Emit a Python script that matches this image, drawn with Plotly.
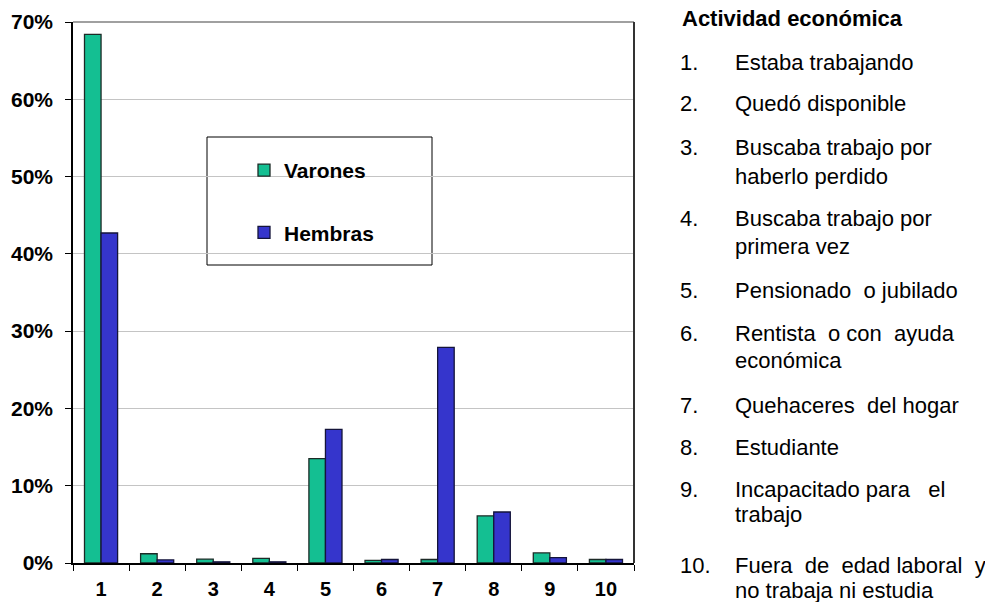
import plotly.graph_objects as go

# datos (porcentaje sobre el total de cada sexo)
categorias = ["1", "2", "3", "4", "5", "6", "7", "8", "9", "10"]
varones = [0.684, 0.012, 0.005, 0.006, 0.135, 0.0035, 0.0045, 0.061, 0.013, 0.0045]
hembras = [0.427, 0.004, 0.0015, 0.0015, 0.173, 0.0045, 0.279, 0.066, 0.007, 0.0045]

titulo_lista = "Actividad económica"
actividades = [
    ["Estaba trabajando"],
    ["Quedó disponible"],
    ["Buscaba trabajo por", "haberlo perdido"],
    ["Buscaba trabajo por", "primera vez"],
    ["Pensionado  o jubilado"],
    ["Rentista  o con  ayuda", "económica"],
    ["Quehaceres  del hogar"],
    ["Estudiante"],
    ["Incapacitado para   el", "trabajo"],
    ["Fuera  de  edad laboral  y", "no trabaja ni estudia"],
]

W, H = 985, 602
L, R, T, B = 73, 634, 22, 563   # plot area in pixels


def px(x):
    return (x - L) / (R - L)


def py(y):
    return (B - y) / (B - T)


FONT = "Liberation Sans, Arial, sans-serif"
VERDE = "#14bf92"
AZUL = "#3535cc"

fig = go.Figure()
fig.add_trace(go.Bar(x=categorias, y=varones, name="<b>Varones</b>", legendgroup="v",
                     marker=dict(color=VERDE, line=dict(color="#1c2a26", width=1.3))))
fig.add_trace(go.Bar(x=categorias, y=hembras, name="<b>Hembras</b>", legendgroup="h",
                     marker=dict(color=AZUL, line=dict(color="#14143a", width=1.3))))

# marco del área de gráfico
fig.add_shape(type="line", xref="paper", yref="paper", x0=0, x1=1, y0=1, y1=1,
              line=dict(color="#a0a0a0", width=2))
fig.add_shape(type="line", xref="paper", yref="paper", x0=1, x1=1, y0=0, y1=1,
              line=dict(color="#333333", width=2))
# caja de la leyenda
fig.add_shape(type="rect", xref="paper", yref="paper",
              x0=px(207), x1=px(432), y0=py(265), y1=py(137),
              line=dict(color="black", width=1), fillcolor="white", layer="below")

# lista de actividades a la derecha
fig.add_annotation(x=px(680), y=py(19), xref="paper", yref="paper", xanchor="left",
                   yanchor="middle", showarrow=False, text="<b>" + titulo_lista + "</b>",
                   font=dict(family=FONT, size=22, color="black"))
filas_y = [[62], [103], [147, 177], [218, 246], [290], [333, 361], [405], [447],
           [489, 514], [565, 590]]
for i, (lineas, ys) in enumerate(zip(actividades, filas_y)):
    fig.add_annotation(x=px(678), y=py(ys[0]), xref="paper", yref="paper", xanchor="left",
                       yanchor="middle", showarrow=False, text=f"{i + 1}.",
                       font=dict(family=FONT, size=22, color="black"))
    for linea, yy in zip(lineas, ys):
        fig.add_annotation(x=px(733), y=py(yy), xref="paper", yref="paper", xanchor="left",
                           yanchor="middle", showarrow=False, text=linea.replace("  ", "&nbsp; "),
                           font=dict(family=FONT, size=22, color="black"))

fig.update_xaxes(type="category", showline=True, linecolor="black", linewidth=1.5,
                 ticks="outside", tickson="boundaries", ticklen=6, tickcolor="black",
                 tickfont=dict(family=FONT, size=20, color="black", weight="bold"),
                 ticklabelstandoff=7, showgrid=False, automargin=False)
fig.update_yaxes(range=[0, 0.70], dtick=0.1, tickformat=".0%", showline=True,
                 linecolor="black", linewidth=1.5, ticks="outside", ticklen=6,
                 tickcolor="black", gridcolor="#c4c4c4", gridwidth=1, zeroline=False,
                 tickfont=dict(family=FONT, size=21, color="black", weight="bold"),
                 ticklabelstandoff=8, automargin=False)
fig.update_layout(
    width=W, height=H,
    margin=dict(l=L, r=W - R, t=T, b=H - B, pad=0, autoexpand=False),
    barmode="group", bargap=0.41, bargroupgap=0,
    plot_bgcolor="white", paper_bgcolor="white",
    font=dict(family=FONT, color="black"),
    legend=dict(x=px(244), y=py(150), xanchor="left", yanchor="top",
                bgcolor="rgba(0,0,0,0)", borderwidth=0, tracegroupgap=32,
                font=dict(family=FONT, size=21, color="black")),
)

# sin margen de página para que la figura ocupe la ventana exacta
fig.write_html("out.html", config={"displayModeBar": False},
               post_script="document.body.style.margin='0';")
